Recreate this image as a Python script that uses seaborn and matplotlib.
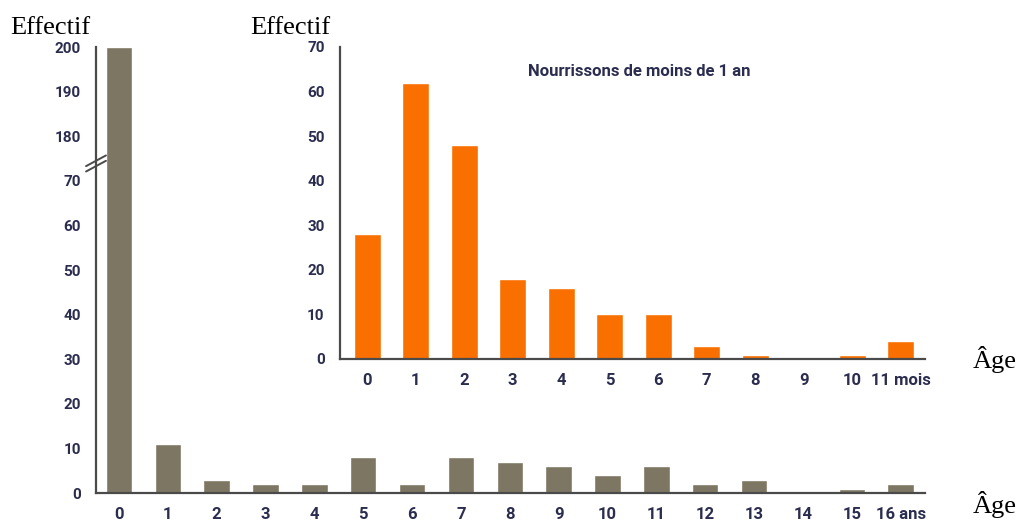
import numpy as np
import pandas as pd
import matplotlib
matplotlib.use("Agg")
import matplotlib.pyplot as plt
from matplotlib import font_manager
import seaborn as sns

# Data
ages_years = [str(a) for a in range(17)]
counts_years = [200, 11, 3, 2, 2, 8, 2, 8, 7, 6, 4, 6, 2, 3, 0, 1, 2]
year_labels = [str(a) for a in range(16)] + ["16 ans"]

ages_months = [str(m) for m in range(12)]
counts_months = [28, 62, 48, 18, 16, 10, 10, 3, 1, 0, 1, 4]
month_labels = [str(m) for m in range(11)] + ["11 mois"]

main_ticks = [0, 10, 20, 30, 40, 50, 60, 70, 180, 190, 200]
inset_ticks = [0, 10, 20, 30, 40, 50, 60, 70]

# broken axis: everything above 70 is shifted down by 100
break_shift = 100

sns.set_style("white")
installed = {f.name for f in font_manager.fontManager.ttflist}
sans = "Roboto" if "Roboto" in installed else "DejaVu Sans"
serif = "Liberation Serif" if "Liberation Serif" in installed else "DejaVu Serif"
plt.rcParams["font.family"] = [sans, "DejaVu Sans"]

brown = "#7d7663"
orange = "#f96f00"
spine_col = "#4a4a4a"
txt_col = "#2b2d4f"

fig = plt.figure(figsize=(10.16, 5.29), dpi=100)
ax = fig.add_axes([0.0945, 0.068, 0.816, 0.843])
ax_in = fig.add_axes([0.3346, 0.3214, 0.5758, 0.5898])

# main chart (years)
df_years = pd.DataFrame({"age": ages_years, "count": counts_years})
df_years["y"] = np.where(df_years["count"] > 70, df_years["count"] - break_shift, df_years["count"])
sns.barplot(data=df_years, x="age", y="y", color=brown, width=0.54, saturation=1, ax=ax)
ax.set_xlim(-0.47, 16.5)
ax.set_ylim(0, 100)
tick_pos = [t if t <= 70 else t - break_shift for t in main_ticks]
ax.set_yticks(tick_pos)
ax.set_yticklabels([str(t) for t in main_ticks])
ax.set_xticks(range(len(year_labels)))
ax.set_xticklabels(year_labels)

# inset chart (months)
df_months = pd.DataFrame({"age": ages_months, "count": counts_months})
sns.barplot(data=df_months, x="age", y="count", color=orange, width=0.56, saturation=1, ax=ax_in)
ax_in.set_xlim(-0.56, 11.5)
ax_in.set_ylim(0, 70)
ax_in.set_yticks(inset_ticks)
ax_in.set_xticks(range(len(month_labels)))
ax_in.set_xticklabels(month_labels)
ax_in.text(0.321, 0.92, "Nourrissons de moins de 1 an", transform=ax_in.transAxes,
           fontsize=12, color=txt_col, fontweight="bold", va="center")

for a in (ax, ax_in):
    a.set_xlabel("")
    a.set_ylabel("")
    a.patch.set_alpha(0)
    for s in ("top", "right"):
        a.spines[s].set_visible(False)
    for s in ("left", "bottom"):
        a.spines[s].set_color(spine_col)
        a.spines[s].set_linewidth(1.6)
    a.tick_params(axis="y", length=6, width=1, color="#777777", labelsize=11,
                  labelcolor=txt_col, pad=5)
    a.tick_params(axis="x", length=0, labelsize=12, labelcolor=txt_col, pad=10)
    for lbl in a.get_xticklabels() + a.get_yticklabels():
        lbl.set_fontweight("bold")

# break marks on the main y axis
d = 0.012
for off in (-0.012, 0.0):
    ax.plot([-d, d], [0.745 + off - 0.012, 0.745 + off + 0.012], transform=ax.transAxes,
            color=spine_col, lw=1.4, clip_on=False)

# axis titles
fig.text(0.010, 0.935, "Effectif", fontsize=19, family=serif, color="black")
fig.text(0.246, 0.935, "Effectif", fontsize=19, family=serif, color="black")
fig.text(0.957, 0.305, "Âge", fontsize=19, family=serif, color="black")
fig.text(0.957, 0.03, "Âge", fontsize=19, family=serif, color="black")

fig.savefig("out.png", dpi=100)
